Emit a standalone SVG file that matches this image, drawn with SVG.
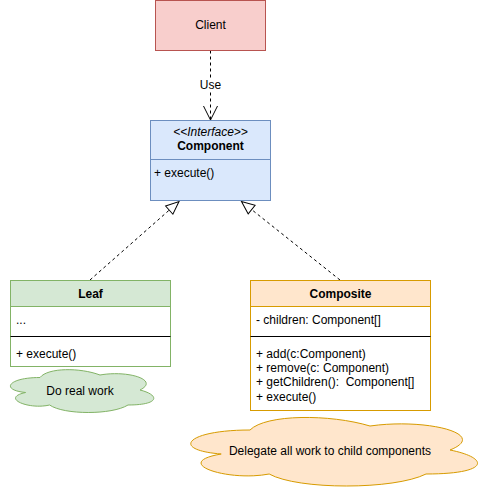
<svg xmlns="http://www.w3.org/2000/svg" width="491" height="491" viewBox="0 0 491 491">
<defs>
<style>
text{font-family:"Liberation Sans",Arial,Helvetica,sans-serif;font-size:12px;fill:#000}
.c{text-anchor:middle}
.b{font-weight:bold}
.i{font-style:italic}
.dash{fill:none;stroke:#000;stroke-width:1;stroke-dasharray:3 3}
</style>
<marker id="open" markerUnits="userSpaceOnUse" markerWidth="20" markerHeight="20" viewBox="-16 -10 20 20" refX="0" refY="0" orient="auto" overflow="visible">
<path d="M-14,-7 L0,0 L-14,7" fill="none" stroke="#000" stroke-width="1"/>
</marker>
<marker id="tri" markerUnits="userSpaceOnUse" markerWidth="20" markerHeight="20" viewBox="-16 -10 20 20" refX="0" refY="0" orient="auto" overflow="visible">
<path d="M-13,-5.5 L0,0 L-13,5.5 Z" fill="#fff" stroke="#000" stroke-width="1"/>
</marker>
</defs>
<rect width="491" height="491" fill="#fff"/>
<g id="connectors">
<path class="dash" d="M210.5,50.5 L210.5,120" marker-end="url(#open)"/>
<rect x="199" y="78" width="23" height="14" fill="#fff"/>
<text class="c" x="210.5" y="89">Use</text>
<path class="dash" d="M90,280 L179,201.5" marker-end="url(#tri)"/>
<path class="dash" d="M340,280 L241.5,201.5" marker-end="url(#tri)"/>
</g>
<g id="client">
<rect x="155.5" y="0.5" width="110" height="50" fill="#f8cecc" stroke="#b85450"/>
<text class="c" x="210.5" y="29">Client</text>
</g>
<g id="component">
<rect x="150.5" y="120.5" width="120" height="80" fill="#dae8fc" stroke="#6c8ebf"/>
<line x1="150.5" y1="159.5" x2="270.5" y2="159.5" stroke="#6c8ebf"/>
<text class="c i" x="210.5" y="136">&lt;&lt;Interface&gt;&gt;</text>
<text class="c b" x="210.5" y="149.5">Component</text>
<text x="154" y="177">+ execute()</text>
</g>
<g id="leaf">
<rect x="10.5" y="280.5" width="160" height="86" fill="#fff" stroke="#82b366"/>
<rect x="10.5" y="280.5" width="160" height="26" fill="#d5e8d4" stroke="#82b366"/>
<line x1="10.5" y1="336.5" x2="170.5" y2="336.5" stroke="#000"/>
<text class="c b" x="90.5" y="298">Leaf</text>
<text x="16" y="324">...</text>
<text x="16" y="357.5">+ execute()</text>
</g>
<g id="composite">
<rect x="250.5" y="280.5" width="180" height="130" fill="#fff" stroke="#d79b00"/>
<rect x="250.5" y="280.5" width="180" height="26" fill="#ffe6cc" stroke="#d79b00"/>
<line x1="250.5" y1="336.5" x2="430.5" y2="336.5" stroke="#000"/>
<text class="c b" x="340.5" y="298">Composite</text>
<text x="256" y="324">- children: Component[]</text>
<text x="256" y="357.5">+ add(c:Component)</text>
<text x="256" y="371.9">+ remove(c: Component)</text>
<text x="256" y="386.3">+ getChildren():&#160; Component[]</text>
<text x="256" y="400.7">+ execute()</text>
</g>
<g id="leaf-note">
<path d="M40,377.5 C8,377.5 0,390 25.6,392.5 C0,398 28.8,410 49.6,405 C64,415 112,415 128,405 C160,405 160,395 140,390 C160,380 128,370 100,375 C80,367.5 48,367.5 40,377.5 Z" fill="#d5e8d4" stroke="#82b366"/>
<text class="c" x="80" y="394.5">Do real work</text>
</g>
<g id="composite-note">
<path d="M250,430 C186,430 170,450 221.2,454 C170,462.8 227.6,482 269.2,474 C298,490 394,490 426,474 C490,474 490,458 450,450 C490,434 426,418 370,426 C330,414 266,414 250,430 Z" fill="#ffe6cc" stroke="#d79b00"/>
<text class="c" x="330" y="454.5">Delegate all work to child components</text>
</g>
</svg>
